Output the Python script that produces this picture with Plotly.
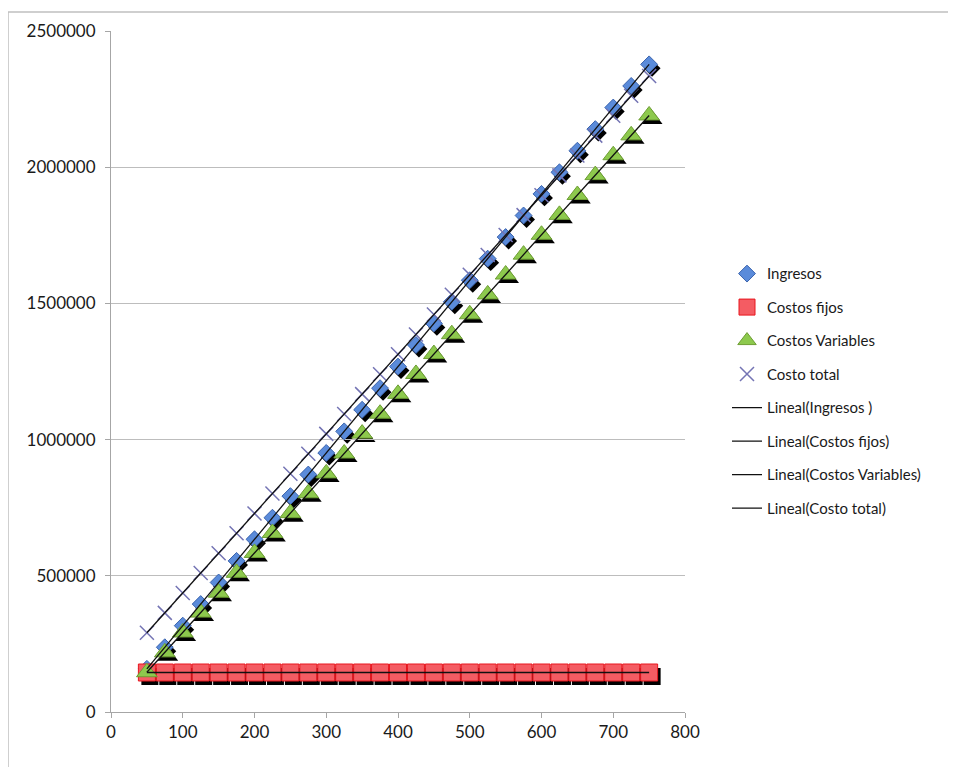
import numpy as np
import plotly.graph_objects as go

# Datos
cantidades = [50, 75, 100, 125, 150, 175, 200, 225, 250, 275, 300, 325, 350, 375, 400,
              425, 450, 475, 500, 525, 550, 575, 600, 625, 650, 675, 700, 725, 750]

ingresos = [158500, 237750, 317000, 396250, 475500, 554750, 634000, 713250, 792500, 871750,
            951000, 1030250, 1109500, 1188750, 1268000, 1347250, 1426500, 1505750, 1585000,
            1664250, 1743500, 1822750, 1902000, 1981250, 2060500, 2139750, 2219000, 2298250,
            2377500]

costos_fijos = [145000] * 29

costos_variables = [146000, 219000, 292000, 365000, 438000, 511000, 584000, 657000, 730000,
                    803000, 876000, 949000, 1022000, 1095000, 1168000, 1241000, 1314000,
                    1387000, 1460000, 1533000, 1606000, 1679000, 1752000, 1825000, 1898000,
                    1971000, 2044000, 2117000, 2190000]

costo_total = [291000, 364000, 437000, 510000, 583000, 656000, 729000, 802000, 875000,
               948000, 1021000, 1094000, 1167000, 1240000, 1313000, 1386000, 1459000,
               1532000, 1605000, 1678000, 1751000, 1824000, 1897000, 1970000, 2043000,
               2116000, 2189000, 2262000, 2335000]

y_ticks = [0, 500000, 1000000, 1500000, 2000000, 2500000]
x_ticks = [0, 100, 200, 300, 400, 500, 600, 700, 800]

series = [
    ("Ingresos", ingresos, dict(symbol="diamond", size=13, color="#5A8BDA",
                                line=dict(color="#3B64AE", width=1)), True),
    ("Costos fijos", costos_fijos, dict(symbol="square", size=17, color="#F45C63",
                                        line=dict(color="#E8161E", width=1)), True),
    ("Costos Variables", costos_variables, dict(symbol="triangle-up", size=18, color="#8DC94D",
                                                line=dict(color="#6E9E34", width=1)), True),
    ("Costo total", costo_total, dict(symbol="x-thin", size=14, color="#7474B4",
                                      line=dict(color="#7474B4", width=1.5)), False),
]
trend_names = ["Lineal(Ingresos )", "Lineal(Costos fijos)", "Lineal(Costos Variables)",
               "Lineal(Costo total)"]

# Plot area in pixels (page body adds 8px offset)
W, H = 956, 767
OFF = 8
L, T = 111 - OFF, 29 - OFF
PW, PH = 577, 687
SX, SY = 3, 4  # shadow offset

fig = go.Figure()

# shadows (first subplot, shifted a few px)
for name, vals, mk, shadow in series:
    if not shadow:
        continue
    fig.add_trace(go.Scatter(x=cantidades, y=vals, mode="markers", xaxis="x", yaxis="y",
                             marker=dict(symbol=mk["symbol"], size=mk["size"], color="#000000",
                                         line=dict(width=0)),
                             showlegend=False, hoverinfo="skip"))

# markers
for i, (name, vals, mk, shadow) in enumerate(series):
    fig.add_trace(go.Scatter(x=cantidades, y=vals, mode="markers", name=name,
                             xaxis="x2", yaxis="y2", marker=mk, legendgroup="g%d" % i))

# linear trend lines
for i, ((name, vals, mk, shadow), tname) in enumerate(zip(series, trend_names)):
    m, b = np.polyfit(cantidades, vals, 1)
    xs = np.array([min(cantidades), max(cantidades)])
    fig.add_trace(go.Scatter(x=xs, y=m * xs + b, mode="lines", name=tname,
                             xaxis="x2", yaxis="y2", line=dict(color="#111111", width=1.3),
                             legendgroup="t%d" % i))

tickfont = dict(family="Lato", size=17, color="#1A1A1A")

fig.update_layout(
    width=W, height=H,
    margin=dict(l=L, r=W - L - PW, t=T, b=H - T - PH),
    plot_bgcolor="rgba(0,0,0,0)", paper_bgcolor="#FFFFFF",
    font=dict(family="Lato", size=14, color="#1A1A1A"),
    xaxis=dict(domain=[SX / PW, 1], range=[0, 800], visible=False, fixedrange=True),
    yaxis=dict(domain=[0, 1 - SY / PH], range=[0, 2500000], visible=False, fixedrange=True),
    xaxis2=dict(domain=[0, 1 - SX / PW], range=[0, 800], anchor="y2",
                tickvals=x_ticks, tickfont=tickfont, showgrid=False, zeroline=False,
                showline=True, linecolor="#A6A6A6", linewidth=1,
                ticks="outside", ticklen=5, tickcolor="#A6A6A6"),
    yaxis2=dict(domain=[SY / PH, 1], range=[0, 2500000], anchor="x2",
                tickvals=y_ticks, tickformat="d", tickfont=tickfont,
                showgrid=True, gridcolor="#BDBDBD", gridwidth=1, zeroline=False,
                showline=True, linecolor="#A6A6A6", linewidth=1,
                ticks="outside", ticklen=5, tickcolor="#A6A6A6", ticklabelstandoff=6),
    legend=dict(x=(727 - OFF - L) / PW, y=(T + PH - (256 - OFF)) / PH,
                xanchor="left", yanchor="top",
                bgcolor="rgba(0,0,0,0)", tracegroupgap=11,
                font=dict(family="Lato", size=15, color="#1A1A1A")),
    showlegend=True,
)

# chart area border (top and left edges)
bx, by = 8 - OFF, 10 - OFF
fig.add_shape(type="line", xref="paper", yref="paper",
              x0=(bx - L) / PW, x1=(W - L) / PW, y0=(T + PH - by) / PH, y1=(T + PH - by) / PH,
              line=dict(color="#BFBFBF", width=1.5))
fig.add_shape(type="line", xref="paper", yref="paper",
              x0=(bx - L) / PW, x1=(bx - L) / PW, y0=(T + PH - by) / PH, y1=(T + PH - H) / PH,
              line=dict(color="#BFBFBF", width=1.5))

fig.write_html("out.html")
